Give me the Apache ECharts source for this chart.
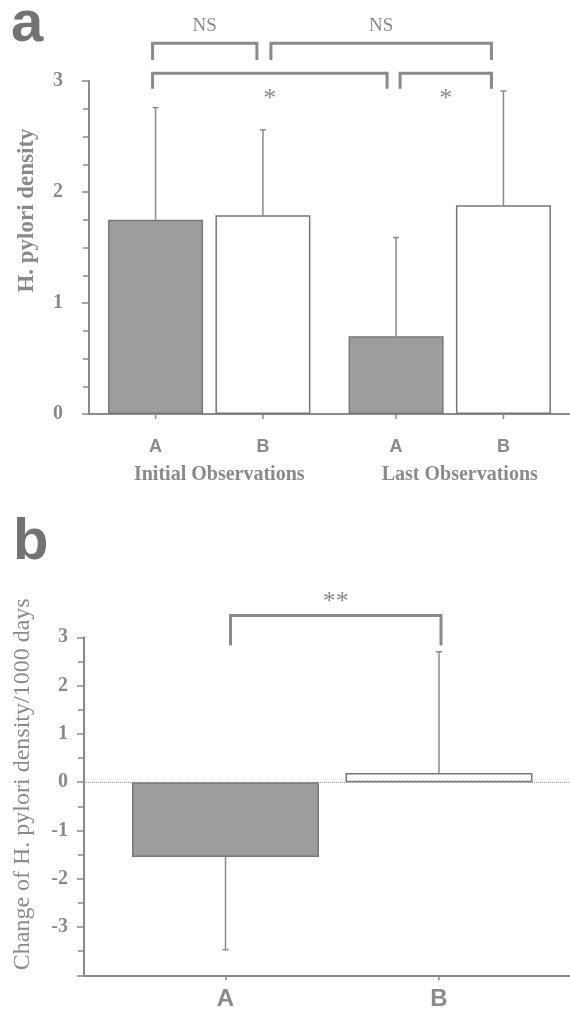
<!DOCTYPE html>
<html><head><meta charset="utf-8">
<script src="https://cdn.jsdelivr.net/npm/echarts@6/dist/echarts.min.js"></script>
<style>html,body{margin:0;padding:0;background:#fff}#c{width:570px;height:1012px}</style>
</head><body><div id="c"></div>
<script>
// ---------------- data ----------------
const groupsA = ['Initial Observations', 'Last Observations'];
const seriesNamesA = ['A', 'B'];
const densityA = [1.75, 0.70];
const densityB = [1.79, 1.88];
const densityErrA = [1.01, 0.89];
const densityErrB = [0.77, 1.03];
// brackets: [group from, series from, group to, series to, label]
const bracketsA = [[0, 0, 0, 1, 'NS'], [0, 1, 1, 1, 'NS'], [0, 0, 1, 0, '*'], [1, 0, 1, 1, '*']];

const categoriesB = ['A', 'B'];
const changeB = [-1.55, 0.19];
const changeErrB = [1.92, 2.51];
const bracketsB = [[0, 1, '**']];

// ---------------- layout / style ----------------
const SERIF = '"Liberation Serif", "Times New Roman", serif';
const SANS = '"Liberation Sans", Arial, sans-serif';
const GRAY = '#8a8a8a';
const DARK = '#9d9d9d';
const EDGE = '#777';
const BAR_W_A = 95, BAR_GAP_A = 0.13, BAR_W_B = 187;
const fillsA = [DARK, '#ffffff'];
const fillsB = [DARK, '#ffffff'];
// level, leg end (y values), pixel nudges of ends, label offset px (negative = above)
const bracketLayoutA = [
  {level: 3.34, leg: 3.19, nudge: [-3, -6], dy: -17},
  {level: 3.34, leg: 3.19, nudge: [8, -12], dy: -17},
  {level: 3.07, leg: 2.93, nudge: [-3, -9], dy: 26},
  {level: 3.07, leg: 2.93, nudge: [4, -12], dy: 26}
];
const bracketLayoutB = [{level: 3.45, leg: 2.83, nudge: [5, 2], dy: -13}];

function offA(s) { return (s === 0 ? -1 : 1) * BAR_W_A * (1 + BAR_GAP_A) / 2; }

function errRenderer(shiftFn, tickBelow) {
  return function (params, api) {
    const cat = api.value(0), v = api.value(1), e = api.value(2);
    const dir = v < 0 ? -1 : 1;
    const dx = shiftFn(params);
    const p0 = api.coord([cat, v]);
    const p1 = api.coord([cat, v + dir * e]);
    const z = api.coord([cat, 0]);
    const x = p0[0] + dx;
    const ls = {stroke: GRAY, lineWidth: 1.5};
    const children = [
      {type: 'line', shape: {x1: x, y1: p0[1], x2: x, y2: p1[1]}, style: ls},
      {type: 'line', shape: {x1: x - 3, y1: p1[1], x2: x + 3, y2: p1[1]}, style: ls}
    ];
    if (tickBelow) {
      children.push({type: 'line', shape: {x1: x, y1: z[1], x2: x, y2: z[1] + 5}, style: ls});
    }
    return {type: 'group', children: children};
  };
}

function bracketRenderer(list, layout, posFn) {
  return function (params, api) {
    const i = params.dataIndex;
    const b = list[i], L = layout[i];
    const ends = posFn(b);
    const top = api.coord([ends[0][0], L.level])[1];
    const leg = api.coord([ends[0][0], L.leg])[1];
    const x1 = api.coord([ends[0][0], 0])[0] + ends[0][1] + L.nudge[0];
    const x2 = api.coord([ends[1][0], 0])[0] + ends[1][1] + L.nudge[1];
    const label = b[b.length - 1];
    return {type: 'group', children: [
      {type: 'polyline', shape: {points: [[x1, leg], [x1, top], [x2, top], [x2, leg]]},
        style: {stroke: GRAY, lineWidth: 3, fill: 'none'}},
      {type: 'text', style: {text: label, x: (x1 + x2) / 2, y: top + L.dy, align: 'center', verticalAlign: 'middle',
        fontFamily: SERIF, fontSize: label === 'NS' ? 19 : 26, fill: GRAY}}
    ]};
  };
}

const axisLineStyle = {color: GRAY, width: 2};
const tickStyle = {color: GRAY, width: 1.5};

const option = {
  animation: false,
  backgroundColor: '#fff',
  title: [
    {text: 'a', left: 6, top: -9, textStyle: {fontSize: 58, fontWeight: 'bold', fontFamily: SANS, color: '#737373'}},
    {text: 'b', left: 8, top: 509, textStyle: {fontSize: 58, fontWeight: 'bold', fontFamily: SANS, color: '#737373'}}
  ],
  grid: [
    {left: 89, right: -7.5, top: 81, bottom: 598},
    {left: 118.75, right: 24.25, top: 637.3, bottom: 36.7},
    {left: 84, right: 0, top: 782.3, bottom: 36.7}
  ],
  xAxis: [
    {type: 'category', gridIndex: 0, data: groupsA,
      axisLine: {lineStyle: axisLineStyle}, axisTick: {show: false},
      axisLabel: {margin: 51, fontFamily: SERIF, fontWeight: 'bold', fontSize: 20, color: GRAY, padding: [0, 0, 0, 20]}},
    {type: 'category', gridIndex: 1, data: categoriesB,
      axisLine: {show: false, onZero: false},
      axisTick: {show: true, alignWithLabel: true, length: 5, lineStyle: tickStyle},
      axisLabel: {margin: 12, fontFamily: SANS, fontWeight: 'bold', fontSize: 24, color: GRAY}},
    {type: 'value', gridIndex: 2, min: 0, max: 1,
      axisLine: {show: true, onZero: false, lineStyle: axisLineStyle},
      axisTick: {show: false}, axisLabel: {show: false}, splitLine: {show: false}}
  ],
  yAxis: [
    {type: 'value', gridIndex: 0, min: 0, max: 3, interval: 1,
      name: 'H. pylori density', nameLocation: 'middle', nameGap: 50,
      nameTextStyle: {fontFamily: SERIF, fontWeight: 'bold', fontSize: 23, color: GRAY, padding: [0, 0, 0, 74]},
      axisLine: {show: true, lineStyle: axisLineStyle},
      axisTick: {show: true, length: 7, lineStyle: tickStyle},
      minorTick: {show: true, splitNumber: 4, length: 6, lineStyle: tickStyle},
      axisLabel: {margin: 26, fontFamily: SERIF, fontWeight: 'bold', fontSize: 20, color: GRAY},
      splitLine: {show: false}},
    {type: 'value', gridIndex: 1, min: -4, max: 3, interval: 1, offset: 34.75,
      name: 'Change of H. pylori density/1000 days', nameLocation: 'middle', nameGap: 49,
      nameTextStyle: {fontFamily: SERIF, fontSize: 24, color: GRAY, padding: [0, 0, 0, 44]},
      axisLine: {show: true, onZero: false, lineStyle: axisLineStyle},
      axisTick: {show: true, length: 7, lineStyle: tickStyle},
      minorTick: {show: true, splitNumber: 2, length: 6, lineStyle: tickStyle},
      axisLabel: {margin: 16, fontFamily: SERIF, fontWeight: 'bold', fontSize: 20, color: GRAY,
        formatter: v => (v === -4 ? '' : String(v))},
      splitLine: {show: false}},
    {type: 'value', gridIndex: 2, min: 0, max: 1, interval: 1,
      axisLine: {show: false}, axisTick: {show: false}, axisLabel: {show: false},
      splitLine: {show: true, lineStyle: {color: '#999', width: 1, type: 'dotted'}}}
  ],
  series: [
    ...[densityA, densityB].map((vals, s) => ({
      type: 'bar', name: seriesNamesA[s], xAxisIndex: 0, yAxisIndex: 0, data: vals,
      barWidth: BAR_W_A, barGap: (BAR_GAP_A * 100) + '%',
      itemStyle: {color: fillsA[s], borderColor: EDGE, borderWidth: 1.5},
      label: {show: true, position: 'bottom', distance: 24, formatter: '{a}',
        fontFamily: SANS, fontWeight: 'bold', fontSize: 18, color: GRAY}
    })),
    ...[[densityA, densityErrA], [densityB, densityErrB]].map((pair, s) => ({
      type: 'custom', xAxisIndex: 0, yAxisIndex: 0, z: 3,
      data: pair[0].map((v, i) => [i, v, pair[1][i]]),
      encode: {x: 0, y: 1},
      renderItem: errRenderer(() => offA(s), true)
    })),
    {type: 'custom', xAxisIndex: 0, yAxisIndex: 0, z: 4,
      data: bracketsA.map((b, i) => [i]),
      renderItem: bracketRenderer(bracketsA, bracketLayoutA, b => [[b[0], offA(b[1])], [b[2], offA(b[3])]])},
    {type: 'bar', xAxisIndex: 1, yAxisIndex: 1, barWidth: BAR_W_B,
      data: changeB.map((v, i) => ({value: v, itemStyle: {color: fillsB[i]}})),
      itemStyle: {borderColor: EDGE, borderWidth: 1.5}},
    {type: 'custom', xAxisIndex: 1, yAxisIndex: 1, z: 3,
      data: changeB.map((v, i) => [i, v, changeErrB[i]]),
      encode: {x: 0, y: 1},
      renderItem: errRenderer(() => 0, false)},
    {type: 'custom', xAxisIndex: 1, yAxisIndex: 1, z: 4,
      data: bracketsB.map((b, i) => [i]),
      renderItem: bracketRenderer(bracketsB, bracketLayoutB, b => [[b[0], 0], [b[1], 0]])}
  ]
};
const chart = echarts.init(document.getElementById('c'));
chart.setOption(option);
</script></body></html>
